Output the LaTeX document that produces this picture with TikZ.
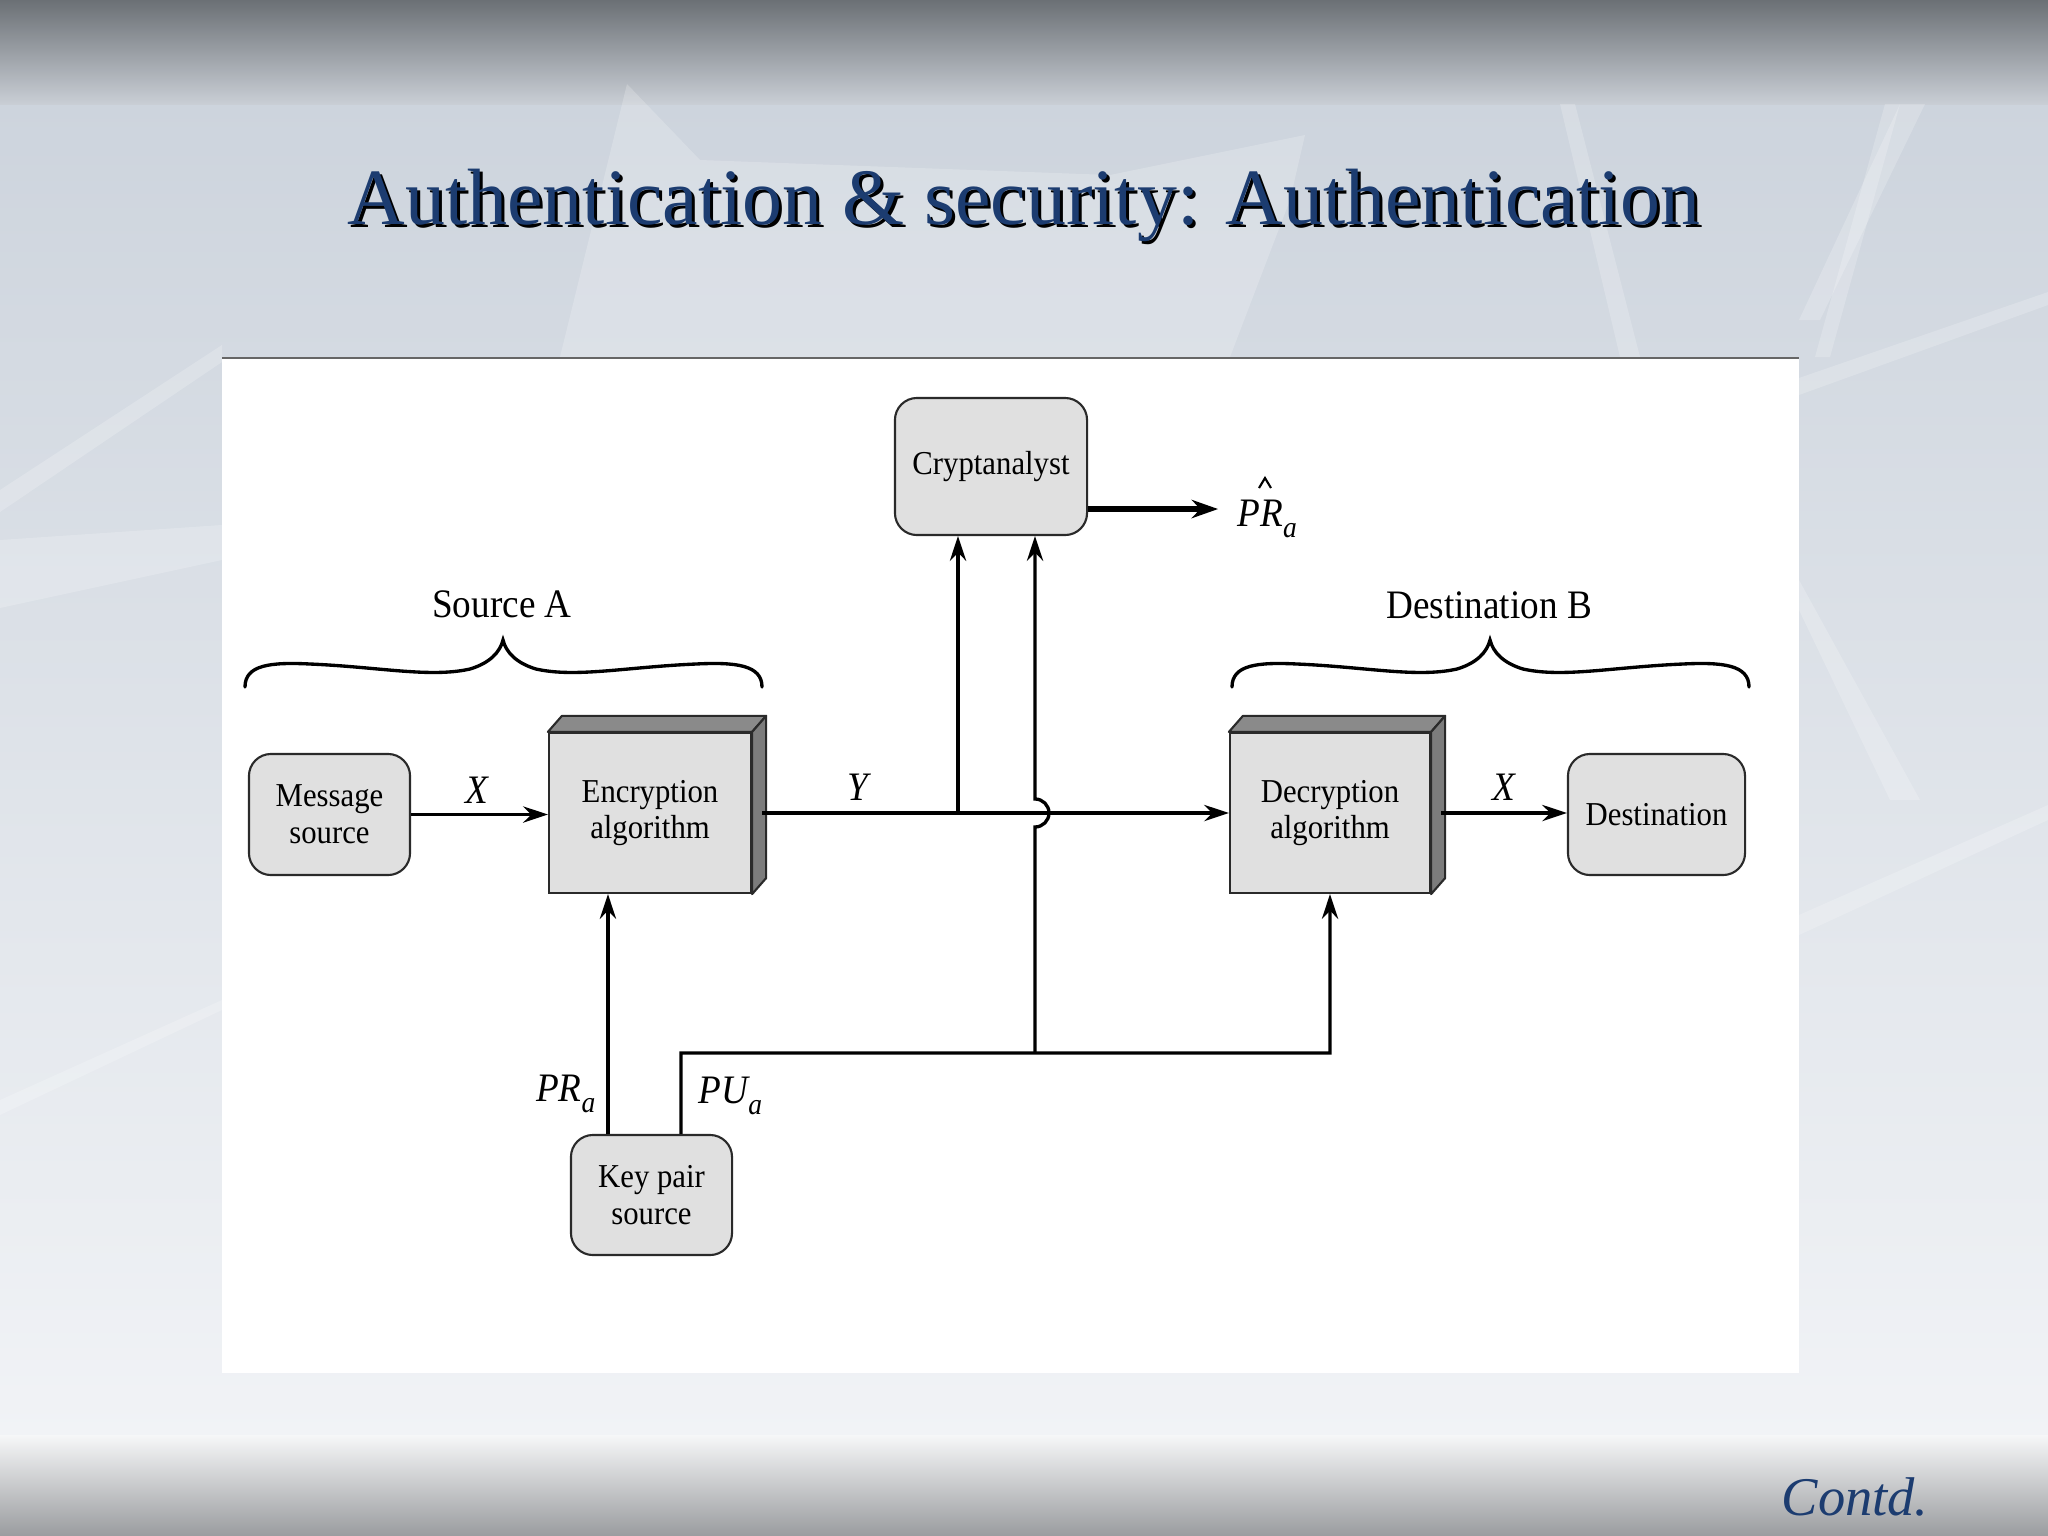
\documentclass[tikz,border=0pt]{standalone}
\usepackage{fontspec}
\setmainfont{Liberation Serif}
\newfontfamily\figfont[FakeStretch=0.92]{Liberation Serif}
\usetikzlibrary{arrows.meta,calc}
\definecolor{navy}{HTML}{1C3C70}
\definecolor{boxfill}{HTML}{E0E0E0}
\definecolor{sidefill}{HTML}{8A8A8A}
\definecolor{edge}{HTML}{2A2A2A}
\definecolor{bgA}{HTML}{CDD4DD}
\definecolor{bgB}{HTML}{F1F3F6}
\definecolor{topA}{HTML}{6B7075}
\definecolor{topB}{HTML}{C9CED5}
\definecolor{botA}{HTML}{F6F7F8}
\definecolor{botB}{HTML}{9A9C9F}
\newcommand\cubefaces[1]{%
  \filldraw[fill=sidefill,draw=edge,line width=0.6pt,line join=round]
    (#1.north west) -- ++(14,-16) -- ($(#1.north east)+(14,-16)$) -- (#1.north east) -- cycle;
  \filldraw[fill=sidefill!90!black,draw=edge,line width=0.6pt,line join=round]
    (#1.north east) -- ++(14,-16) -- ($(#1.south east)+(14,-16)$) -- (#1.south east) -- cycle;
}
\tikzset{
  rbox/.style={draw=edge,fill=boxfill,rounded corners=0.22cm,line width=0.6pt,align=center,
    inner sep=0pt,font=\figfont\fontsize{9.5}{10.5}\selectfont},
  cubebox/.style={draw=edge,fill=boxfill,line width=0.6pt,align=center,inner sep=0pt,
    minimum width=2.01cm,minimum height=1.6cm,font=\figfont\fontsize{9.5}{10.5}\selectfont},
  conn/.style={line width=0.95pt,-{Stealth[length=7pt,width=4.6pt]}},
  thickconn/.style={line width=1.7pt,-{Stealth[length=7.5pt,width=5.2pt]}},
  lbl/.style={inner sep=0pt,font=\figfont\fontsize{11.5}{12}\selectfont},
  mlbl/.style={inner sep=0pt,font=\figfont\itshape\fontsize{11.5}{12}\selectfont},
  streak/.style={fill=white,opacity=0.2},
  curlybrace/.pic={
    \draw[line width=0.95pt,line cap=round]
      (-258,47) .. controls (-258,25) and (-233,22) .. (-193,24)
      .. controls (-123,27) and (-73,38) .. (-33,29)
      .. controls (-13,23) and (-3,12) .. (0,0)
      .. controls (3,12) and (13,23) .. (33,29)
      .. controls (73,38) and (123,27) .. (193,24)
      .. controls (233,22) and (259,25) .. (259,47);
  }
}
\begin{document}
\begin{tikzpicture}[x=0.01cm,y=-0.01cm]
\useasboundingbox (0,0) rectangle (2048,1536);
% ---------- slide background ----------
\shade[top color=bgA,bottom color=bgB] (0,100) rectangle (2048,1440);
\shade[top color=topA,bottom color=topB] (0,0) rectangle (2048,104);
% light streaks
\fill[streak] (560,357) -- (627,84) -- (700,160) -- (1110,175) -- (1305,135) -- (1290,200) -- (1230,357) -- cycle;
\fill[streak] (1560,104) -- (1575,104) -- (1640,357) -- (1620,357) -- cycle;
\fill[streak] (1885,104) -- (1900,104) -- (1830,357) -- (1815,357) -- cycle;
\fill[streak] (0,490) -- (222,345) -- (222,362) -- (0,512) -- cycle;
\fill[streak] (0,540) -- (222,525) -- (222,560) -- (0,608) -- cycle;
\fill[streak] (0,1100) -- (222,1000) -- (222,1010) -- (0,1115) -- cycle;
\fill[streak] (1799,378) -- (2048,292) -- (2048,305) -- (1799,395) -- cycle;
\fill[streak] (1799,580) -- (1920,800) -- (1890,800) -- (1799,610) -- cycle;
\fill[streak] (1799,915) -- (2048,805) -- (2048,820) -- (1799,935) -- cycle;
\fill[streak] (1799,320) -- (1900,104) -- (1925,104) -- (1820,320) -- cycle;
\shade[top color=botA,bottom color=botB] (0,1435) rectangle (2048,1536);
% ---------- title ----------
\node[anchor=base,text=black,font=\fontsize{22.7}{27}\selectfont] (titleshadow) at (1027,227)
  {Authentication \& security: Authentication};
\node[anchor=base,text=navy,font=\fontsize{22.7}{27}\selectfont] (title) at (1024,224)
  {Authentication \& security: Authentication};
\node[anchor=base west,text=navy,inner sep=0pt,font=\itshape\fontsize{15.5}{18}\selectfont] (contd) at (1781,1515) {Contd.};
% ---------- figure panel ----------
\fill[white] (222,357) rectangle (1799,1373);
\draw[line width=0.6pt,black!60] (222,358) -- (1799,358);
% ---------- nodes ----------
\node[rbox,minimum width=1.61cm,minimum height=1.21cm] (msg) at (329.5,814.5) {Message\\source};
\node[cubebox,minimum width=2.02cm] (enc) at (650,813) {Encryption\\algorithm};
\node[cubebox,minimum width=2.0cm] (dec) at (1330,813) {Decryption\\algorithm};
\node[rbox,minimum width=1.92cm,minimum height=1.37cm] (crypt) at (991,466.5) {Cryptanalyst};
\node[rbox,minimum width=1.77cm,minimum height=1.21cm] (dest) at (1656.5,814.5) {Destination};
\node[rbox,minimum width=1.61cm,minimum height=1.2cm] (kp) at (651.5,1195) {Key pair\\source};
\cubefaces{enc}
\cubefaces{dec}
% ---------- braces ----------
\pic at (503,640) {curlybrace};
\pic at (1490,640) {curlybrace};
\node[lbl] (srcA) at (502,604) {Source A};
\node[lbl] (dstB) at (1489,605) {Destination B};
% ---------- connectors ----------
\draw[conn] (msg.east) -- (msg.east -| enc.west);
\draw[conn] ([xshift=0.1cm]enc.east) -- (dec.west);
\draw[conn] ([xshift=0.1cm]dec.east) -- (dest.west |- dec.east);
\coordinate (tap) at (958,813);
\draw[conn] (tap) -- (tap |- crypt.south);
\coordinate (prfoot) at ([xshift=-0.435cm]kp.north);
\draw[conn] (prfoot) -- (prfoot |- enc.south);
\coordinate (pufoot) at ([xshift=0.295cm]kp.north);
\coordinate (pucorner) at (681,1053);
\coordinate (pujoin) at (1035,1053);
\draw[conn] (pufoot) -- (pucorner) -- (pucorner -| dec.south) -- (dec.south);
\draw[conn] (pujoin) -- (1035,827) arc[start angle=-90,end angle=90,radius=0.14cm] -- (pujoin |- crypt.south);
\draw[thickconn] ([yshift=-0.425cm]crypt.east) -- ++(130,0) coordinate (prhatpt);
% ---------- labels ----------
\node[mlbl] (x1) at (477,790) {X};
\node[mlbl] (y1) at (858,787) {Y};
\node[mlbl] (x2) at (1504,787) {X};
\node[mlbl,anchor=base west] (prhat) at (1237,526) {PR\raisebox{-0.28em}{\fontsize{8.5}{9}\selectfont a}};
\draw[line width=0.6pt] (1259,488) -- (1265,478) -- (1271,488);
\node[mlbl,anchor=base east] (pra) at (596,1101) {PR\raisebox{-0.28em}{\fontsize{8.5}{9}\selectfont a}};
\node[mlbl,anchor=base west] (pua) at (698,1103) {PU\raisebox{-0.28em}{\fontsize{8.5}{9}\selectfont a}};
\end{tikzpicture}
\end{document}
